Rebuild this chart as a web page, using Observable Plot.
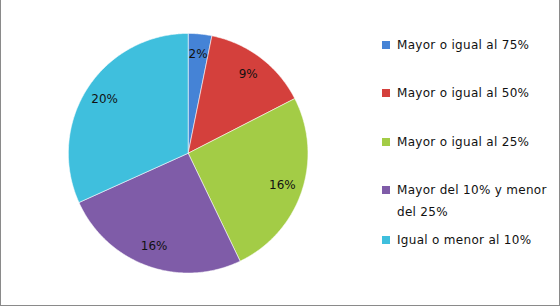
<!DOCTYPE html>
<html>
<head>
<meta charset="utf-8">
<script src="https://cdn.jsdelivr.net/npm/d3@7"></script>
<script src="https://cdn.jsdelivr.net/npm/@observablehq/plot@0.6"></script>
<style>
  html, body { margin: 0; padding: 0; background: #fff; }
  #wrap { position: relative; width: 560px; height: 306px; box-sizing: border-box; border-left: 1px solid #8a8a8a; border-right: 1px solid #8a8a8a; border-bottom: 1px solid #8a8a8a; overflow: hidden; }
  #chart { position: absolute; left: -1px; top: 0; }
  .legend { position: absolute; left: 381px; top: 0; font-family: "DejaVu Sans", Verdana, sans-serif; font-size: 12px; letter-spacing: 0.3px; color: #111; }
  .item { position: absolute; left: 0; white-space: nowrap; line-height: 22px; }
  .sw { position: absolute; left: 0; width: 8px; height: 8px; }
  .lbl { position: absolute; left: 15px; }
</style>
</head>
<body>
<div id="wrap">
  <div id="chart"></div>
  <div class="legend" id="legend"></div>
</div>
<script>
const categories = [
  "Mayor o igual al 75%",
  "Mayor o igual al 50%",
  "Mayor o igual al 25%",
  "Mayor del 10% y menor del 25%",
  "Igual o menor al 10%"
];
const values = [2, 9, 16, 16, 20];
const valueLabels = ["2%", "9%", "16%", "16%", "20%"];
const legendLines = [
  ["Mayor o igual al 75%"],
  ["Mayor o igual al 50%"],
  ["Mayor o igual al 25%"],
  ["Mayor del 10% y menor", "del 25%"],
  ["Igual o menor al 10%"]
];
const colors = ["#4583d6", "#d4403c", "#a3cc46", "#7f5ca8", "#3fbfdd"];

const arcs = d3.pie().sort(null).value(d => d)(values);

// Polygon points for each slice (from the data's angles)
const pts = [];
arcs.forEach((a, i) => {
  const cat = categories[i];
  pts.push({cat, x: 0, y: 0});
  const n = Math.max(4, Math.ceil((a.endAngle - a.startAngle) / 0.01));
  for (let k = 0; k <= n; k++) {
    const t = a.startAngle + (a.endAngle - a.startAngle) * k / n;
    pts.push({cat, x: Math.sin(t), y: Math.cos(t)});
  }
  pts.push({cat, x: 0, y: 0});
});

const labelData = arcs.map((a, i) => {
  const m = (a.startAngle + a.endAngle) / 2;
  return {cat: categories[i], text: valueLabels[i], x: 0.83 * Math.sin(m), y: 0.83 * Math.cos(m)};
});

const chart = Plot.plot({
  width: 560,
  height: 306,
  marginLeft: 68,
  marginRight: 252,
  marginTop: 33,
  marginBottom: 33,
  x: {domain: [-1, 1], axis: null},
  y: {domain: [-1, 1], axis: null},
  color: {domain: categories, range: colors},
  style: {fontFamily: "DejaVu Sans, Verdana, sans-serif", background: "transparent"},
  marks: [
    Plot.line(pts, {x: "x", y: "y", z: "cat", fill: "cat", stroke: "#ffffff", strokeOpacity: 0.55, strokeWidth: 1, curve: "linear"}),
    Plot.text(labelData, {x: "x", y: "y", text: "text", fontSize: 12, fill: "#111"})
  ]
});
document.getElementById("chart").appendChild(chart);

// Legend
const tops = [45, 93, 142, 190, 240];
const leg = document.getElementById("legend");
categories.forEach((c, i) => {
  const item = document.createElement("div");
  item.className = "item";
  item.style.top = (tops[i] - 11) + "px";
  const sw = document.createElement("div");
  sw.className = "sw";
  sw.style.top = "7px";
  sw.style.background = colors[i];
  const lb = document.createElement("div");
  lb.className = "lbl";
  lb.innerHTML = legendLines[i].join("<br>");
  item.appendChild(sw);
  item.appendChild(lb);
  leg.appendChild(item);
});
</script>
</body>
</html>
